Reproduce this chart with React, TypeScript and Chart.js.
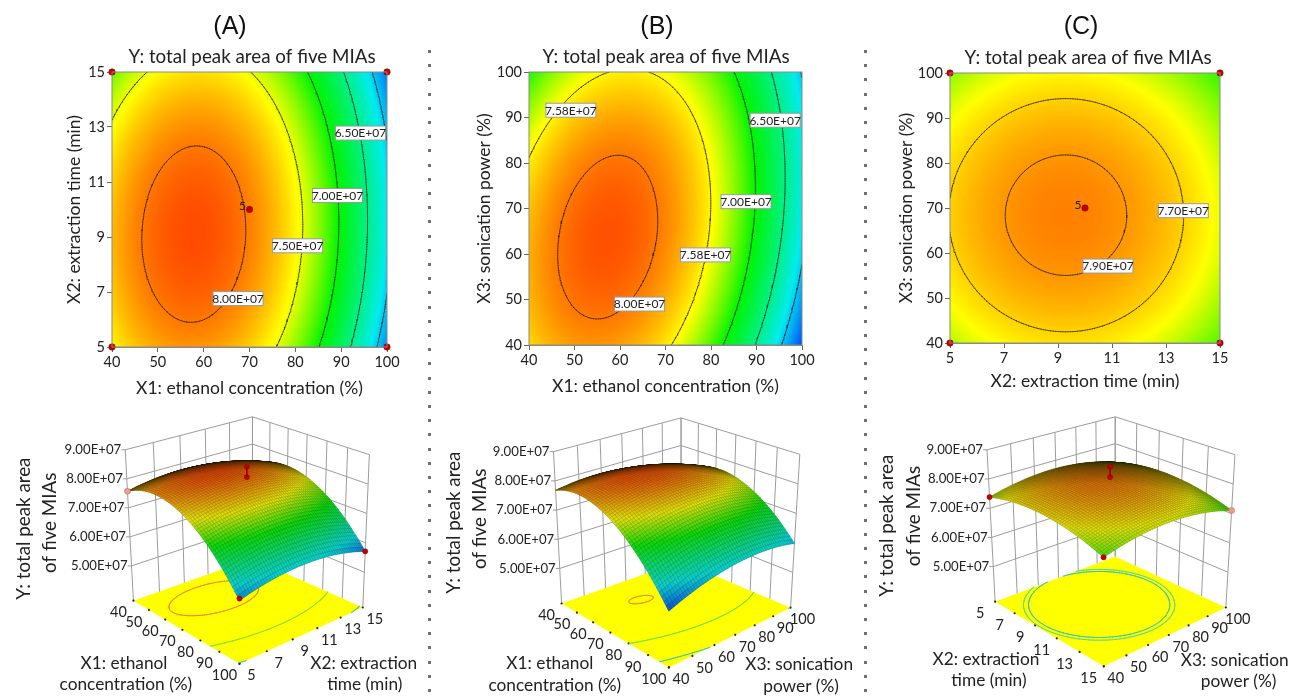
import React, { useEffect, useRef } from "react";
import { Chart, registerables } from "chart.js";

Chart.register(...registerables);

const TEXT_FONT = "Lato";
const SERIES_TITLE = "Y: total peak area of five MIAs";

// ---------- data (Y in units of 1E7) ----------
const ethanol = [40, 50, 60, 70, 80, 90, 100];
const time = [5, 7, 9, 11, 13, 15];
const power = [40, 50, 60, 70, 80, 90, 100];

// rows: extraction time 5..15, columns: ethanol 40..100
const surfaceA = [
  [7.57, 7.848, 7.896, 7.714, 7.302, 6.659, 5.788],
  [7.734, 8.02, 8.077, 7.903, 7.5, 6.866, 6.003],
  [7.783, 8.077, 8.143, 7.977, 7.583, 6.958, 6.103],
  [7.715, 8.019, 8.093, 7.936, 7.55, 6.933, 6.087],
  [7.532, 7.844, 7.927, 7.778, 7.401, 6.793, 5.956],
  [7.234, 7.554, 7.645, 7.506, 7.137, 6.538, 5.709],
];
// rows: sonication power 40..100, columns: ethanol 40..100
const surfaceB = [
  [7.676, 7.883, 7.868, 7.627, 7.163, 6.474, 5.563],
  [7.784, 8.02, 8.032, 7.82, 7.385, 6.725, 5.842],
  [7.807, 8.072, 8.113, 7.93, 7.523, 6.891, 6.037],
  [7.747, 8.04, 8.11, 7.955, 7.577, 6.974, 6.148],
  [7.602, 7.924, 8.023, 7.896, 7.547, 6.972, 6.175],
  [7.374, 7.724, 7.851, 7.754, 7.433, 6.887, 6.118],
  [7.062, 7.441, 7.597, 7.528, 7.236, 6.718, 5.978],
];
// rows: sonication power 40..100, columns: extraction time 5..15
const surfaceC = [
  [7.378, 7.569, 7.644, 7.603, 7.448, 7.176],
  [7.568, 7.759, 7.834, 7.793, 7.638, 7.366],
  [7.677, 7.868, 7.943, 7.902, 7.747, 7.475],
  [7.705, 7.896, 7.971, 7.93, 7.775, 7.503],
  [7.651, 7.842, 7.917, 7.876, 7.721, 7.449],
  [7.516, 7.707, 7.782, 7.741, 7.586, 7.314],
  [7.3, 7.491, 7.566, 7.525, 7.37, 7.098],
];

const levelsA = [8.0, 7.5, 7.0, 6.5, 6.0];
const levelsB = [8.0, 7.58, 7.0, 6.5, 6.0];
const levelsC = [7.9, 7.7];

const contourLabelsA = [
  { x: 94.2, y: 12.78, text: "6.50E+07" },
  { x: 89.2, y: 10.51, text: "7.00E+07" },
  { x: 80.5, y: 8.68, text: "7.50E+07" },
  { x: 67.5, y: 6.76, text: "8.00E+07" },
];
const contourLabelsB = [
  { x: 49.2, y: 91.6, text: "7.58E+07" },
  { x: 94.1, y: 89.4, text: "6.50E+07" },
  { x: 87.7, y: 71.5, text: "7.00E+07" },
  { x: 78.8, y: 59.8, text: "7.58E+07" },
  { x: 64.3, y: 49, text: "8.00E+07" },
];
const contourLabelsC = [
  { x: 13.64, y: 69.4, text: "7.70E+07" },
  { x: 10.85, y: 57.1, text: "7.90E+07" },
];

const designA = [{ x: 40, y: 5 }, { x: 100, y: 5 }, { x: 40, y: 15 }, { x: 100, y: 15 }, { x: 70, y: 10 }];
const designB = [{ x: 70, y: 70, hidden: true }];
const designC = [{ x: 5, y: 40 }, { x: 15, y: 40 }, { x: 5, y: 100 }, { x: 15, y: 100 }, { x: 10, y: 70 }];

const zTicks = [5, 6, 7, 8, 9];
const zLabels = ["5.00E+07", "6.00E+07", "7.00E+07", "8.00E+07", "9.00E+07"];
const Z_MIN = 3.8;
const Z_MAX = 9;

const floorLevelsA = [
  { level: 8.0, color: "#f08a20" },
  { level: 7.0, color: "#7fe040" },
  { level: 5.85, color: "#30c8c0" },
];
const floorLevelsB = [
  { level: 8.12, color: "#f08a20" },
  { level: 7.16, color: "#70e050" },
  { level: 6.0, color: "#30c8c0" },
];
const floorLevelsC = [
  { level: 7.7, color: "#35c8b0" },
  { level: 7.66, color: "#60d890" },
];

const redPoints3dA = [{ a: 100, b: 5, z: 5.85 }, { a: 100, b: 15, z: 5.71 }, { a: 70, b: 10, z: 8.5 }, { a: 70, b: 10, z: 8.15 }];
const palePoints3dA = [{ a: 40, b: 5, z: 7.57 }];
const redPoints3dB: { a: number; b: number; z: number }[] = [];
const palePoints3dB: { a: number; b: number; z: number }[] = [];
const redPoints3dC = [{ a: 5, b: 40, z: 7.38 }, { a: 15, b: 40, z: 7.18 }, { a: 10, b: 70, z: 8.5 }, { a: 10, b: 70, z: 8.15 }];
const palePoints3dC = [{ a: 15, b: 100, z: 7.1 }];

// ---------- colour scale ----------
const colorStops: [number, number, number, number][] = [
  [5.3, 0, 0, 255],
  [6.12, 0, 236, 238],
  [7.0, 0, 245, 0],
  [7.55, 255, 255, 0],
  [8.4, 255, 0, 0],
];
function colorOf(v: number): [number, number, number] {
  if (v <= colorStops[0][0]) return [colorStops[0][1], colorStops[0][2], colorStops[0][3]];
  for (let i = 1; i < colorStops.length; i++) {
    const s = colorStops[i];
    if (v <= s[0]) {
      const p = colorStops[i - 1];
      const t = (v - p[0]) / (s[0] - p[0]);
      return [p[1] + (s[1] - p[1]) * t, p[2] + (s[2] - p[2]) * t, p[3] + (s[3] - p[3]) * t];
    }
  }
  const l = colorStops[colorStops.length - 1];
  return [l[1], l[2], l[3]];
}

// ---------- smooth rendering of a coarse table ----------
function interp1(arr: number[], f: number) {
  const n = arr.length;
  const i = Math.max(0, Math.min(Math.floor(f), n - 2));
  const t = f - i;
  const p1 = arr[i];
  const p2 = arr[i + 1];
  const p0 = i > 0 ? arr[i - 1] : 3 * arr[0] - 3 * arr[1] + arr[2];
  const p3 = i + 2 < n ? arr[i + 2] : 3 * arr[n - 1] - 3 * arr[n - 2] + arr[n - 3];
  return 0.5 * (2 * p1 + (-p0 + p2) * t + (2 * p0 - 5 * p1 + 4 * p2 - p3) * t * t + (-p0 + 3 * p1 - 3 * p2 + p3) * t * t * t);
}
function sampleTable(z: number[][], fx: number, fy: number) {
  return interp1(z.map((r) => interp1(r, fx)), fy);
}

function contourSegments(xs: number[], ys: number[], z: number[][], level: number, M = 110) {
  const nx = xs.length - 1;
  const ny = ys.length - 1;
  const grid: number[][] = [];
  for (let j = 0; j <= M; j++) {
    const row: number[] = [];
    for (let i = 0; i <= M; i++) row.push(sampleTable(z, (i / M) * nx, (j / M) * ny));
    grid.push(row);
  }
  const X = (i: number) => xs[0] + (i / M) * (xs[nx] - xs[0]);
  const Y = (j: number) => ys[0] + (j / M) * (ys[ny] - ys[0]);
  const out: { x: number; y: number }[] = [];
  for (let j = 0; j < M; j++) {
    for (let i = 0; i < M; i++) {
      const a = grid[j][i], b = grid[j][i + 1], c = grid[j + 1][i + 1], d = grid[j + 1][i];
      const pts: { x: number; y: number }[] = [];
      if ((a - level) * (b - level) < 0) pts.push({ x: X(i + (level - a) / (b - a)), y: Y(j) });
      if ((b - level) * (c - level) < 0) pts.push({ x: X(i + 1), y: Y(j + (level - b) / (c - b)) });
      if ((d - level) * (c - level) < 0) pts.push({ x: X(i + (level - d) / (c - d)), y: Y(j + 1) });
      if ((a - level) * (d - level) < 0) pts.push({ x: X(i), y: Y(j + (level - a) / (d - a)) });
      if (pts.length >= 2) {
        out.push(pts[0], pts[1], { x: NaN, y: NaN });
        if (pts.length === 4) out.push(pts[2], pts[3], { x: NaN, y: NaN });
      }
    }
  }
  return out;
}

// ---------- contour panels ----------
const mapPanels = [
  {
    name: "(A)", xs: ethanol, ys: time, z: surfaceA, levels: levelsA, labels: contourLabelsA, design: designA,
    xTitle: "X1: ethanol concentration (%)", yTitle: "X2: extraction time (min)", xStep: 10, yStep: 2,
    canvasLeft: 64, canvasRight: 430, plotLeft: 112, plotRight: 387, plotTop: 72, plotBottom: 347, xTitleCy: 388, headCx: 230, subCx: 252, subCy: 57,
  },
  {
    name: "(B)", xs: ethanol, ys: power, z: surfaceB, levels: levelsB, labels: contourLabelsB, design: designB,
    xTitle: "X1: ethanol concentration (%)", yTitle: "X3: sonication power (%)", xStep: 10, yStep: 10,
    canvasLeft: 474, canvasRight: 860, plotLeft: 529, plotRight: 802, plotTop: 72, plotBottom: 345, xTitleCy: 386, headCx: 657, subCx: 666, subCy: 57,
  },
  {
    name: "(C)", xs: time, ys: power, z: surfaceC, levels: levelsC, labels: contourLabelsC, design: designC,
    xTitle: "X2: extraction time (min)", yTitle: "X3: sonication power (%)", xStep: 2, yStep: 10,
    canvasLeft: 896, canvasRight: 1285, plotLeft: 950, plotRight: 1220, plotTop: 73, plotBottom: 343, xTitleCy: 381, headCx: 1081, subCx: 1088, subCy: 58,
  },
];

const HEAD_FONT = 25;
const SUB_FONT = 18.8;
const AXIS_TITLE_FONT = 17.5;
const TICK_FONT = 14.5;
const LABEL_FONT = 12;

function makeMap(canvas: HTMLCanvasElement, p: (typeof mapPanels)[number]) {
  const heatPlugin = {
    id: "heat",
    beforeDatasetsDraw(chart: any) {
      const { x, y } = chart.scales;
      const l = x.getPixelForValue(p.xs[0]);
      const r = x.getPixelForValue(p.xs[p.xs.length - 1]);
      const t = y.getPixelForValue(p.ys[p.ys.length - 1]);
      const b = y.getPixelForValue(p.ys[0]);
      const W = Math.round(r - l);
      const H = Math.round(b - t);
      const off = document.createElement("canvas");
      off.width = W;
      off.height = H;
      const octx = off.getContext("2d")!;
      const img = octx.createImageData(W, H);
      const nx = p.xs.length - 1;
      const ny = p.ys.length - 1;
      for (let py = 0; py < H; py++) {
        const fy = (1 - (py + 0.5) / H) * ny;
        for (let px = 0; px < W; px++) {
          const [cr, cg, cb] = colorOf(sampleTable(p.z, ((px + 0.5) / W) * nx, fy));
          const k = (py * W + px) * 4;
          img.data[k] = cr;
          img.data[k + 1] = cg;
          img.data[k + 2] = cb;
          img.data[k + 3] = 255;
        }
      }
      octx.putImageData(img, 0, 0);
      chart.ctx.drawImage(off, l, t);
    },
    afterDatasetsDraw(chart: any) {
      const { ctx } = chart;
      const { x, y } = chart.scales;
      ctx.save();
      ctx.strokeStyle = "#8a8a8a";
      ctx.lineWidth = 1;
      const a = chart.chartArea;
      ctx.strokeRect(a.left, a.top, a.right - a.left, a.bottom - a.top);
      ctx.font = `${LABEL_FONT}px ${TEXT_FONT}`;
      ctx.textAlign = "center";
      ctx.textBaseline = "middle";
      for (const lab of p.labels) {
        const cx = x.getPixelForValue(lab.x);
        const cy = y.getPixelForValue(lab.y);
        const w = 50;
        const h = 14;
        ctx.fillStyle = "#ffffff";
        ctx.fillRect(cx - w / 2, cy - h / 2, w, h);
        ctx.strokeStyle = "#9a9a9a";
        ctx.strokeRect(cx - w / 2, cy - h / 2, w, h);
        ctx.fillStyle = "#222222";
        ctx.fillText(lab.text, cx, cy + 0.5);
      }
      const centre = p.design[p.design.length - 1] as any;
      if (!centre.hidden) {
        ctx.fillStyle = "#222222";
        ctx.font = `${LABEL_FONT}px ${TEXT_FONT}`;
        ctx.fillText("5", x.getPixelForValue(centre.x) - 7, y.getPixelForValue(centre.y) - 3);
      }
      ctx.restore();
    },
  };
  const placeTitles = {
    id: "placeTitles",
    afterLayout(chart: any) {
      for (const box of chart.boxes) {
        const txt = box.options && box.options.text;
        if (txt === p.name) {
          box.left = p.headCx - p.canvasLeft - 100;
          box.right = p.headCx - p.canvasLeft + 100;
        } else if (txt === SERIES_TITLE) {
          box.left = p.subCx - p.canvasLeft - 200;
          box.right = p.subCx - p.canvasLeft + 200;
        }
      }
    },
  };
  const headH = HEAD_FONT * 1.2;
  const subH = SUB_FONT * 1.2;
  const headTop = 27 - headH / 2;
  const axisTitleH = AXIS_TITLE_FONT * 1.2;
  const datasets: any[] = [
    {
      label: "Design points",
      data: p.design.filter((d: any) => !d.hidden),
      showLine: false,
      pointRadius: 3.2,
      pointBackgroundColor: "#c40000",
      pointBorderColor: "#8a0000",
      pointBorderWidth: 0.6,
      clip: false,
      order: 0,
    },
    ...p.levels.map((lv) => ({
      label: `Y = ${lv}E+07`,
      data: contourSegments(p.xs, p.ys, p.z, lv),
      showLine: true,
      spanGaps: false,
      pointRadius: 0,
      borderColor: "rgba(25,25,25,0.8)",
      borderWidth: 0.8,
      borderCapStyle: "round",
      order: 1,
    })),
  ];
  return new Chart(canvas, {
    type: "scatter",
    data: { datasets },
    plugins: [heatPlugin, placeTitles],
    options: {
      responsive: false,
      animation: false,
      devicePixelRatio: 1,
      layout: { padding: { left: 0, top: 0, right: p.canvasRight - p.plotRight, bottom: 0 } },
      plugins: {
        legend: { display: false },
        tooltip: { enabled: false },
        title: {
          display: true,
          text: p.name,
          color: "#111111",
          font: { family: "Liberation Sans", size: HEAD_FONT, weight: "normal", lineHeight: 1.2 },
          padding: { top: headTop, bottom: p.subCy - subH / 2 - headTop - headH },
        },
        subtitle: {
          display: true,
          text: SERIES_TITLE,
          color: "#222222",
          font: { family: TEXT_FONT, size: SUB_FONT, weight: "normal", lineHeight: 1.2 },
          padding: { top: 0, bottom: p.plotTop - p.subCy - subH / 2 },
        },
      },
      scales: {
        x: {
          type: "linear",
          min: p.xs[0],
          max: p.xs[p.xs.length - 1],
          afterFit: (s: any) => { s.height = p.xTitleCy + 12 - p.plotBottom; },
          ticks: { stepSize: p.xStep, autoSkip: false, maxRotation: 0, padding: 2, color: "#222222", font: { family: TEXT_FONT, size: TICK_FONT } },
          grid: { drawOnChartArea: false, drawTicks: true, tickLength: 5, color: "#666666" },
          border: { display: true, color: "#8a8a8a" },
          title: { display: true, text: p.xTitle, color: "#222222", font: { family: TEXT_FONT, size: AXIS_TITLE_FONT, lineHeight: 1.2 }, padding: { top: 0, bottom: 12 - axisTitleH / 2 } },
        },
        y: {
          type: "linear",
          min: p.ys[0],
          max: p.ys[p.ys.length - 1],
          afterFit: (s: any) => { s.width = p.plotLeft - p.canvasLeft; },
          ticks: { stepSize: p.yStep, autoSkip: false, padding: 2, color: "#222222", font: { family: TEXT_FONT, size: TICK_FONT } },
          grid: { drawOnChartArea: false, drawTicks: true, tickLength: 5, color: "#666666" },
          border: { display: true, color: "#8a8a8a" },
          title: { display: true, text: p.yTitle, color: "#222222", font: { family: TEXT_FONT, size: AXIS_TITLE_FONT, lineHeight: 1.2 }, padding: { top: 0, bottom: 0 } },
        },
      },
    } as any,
  });
}

// ---------- 3-D view calibration ----------
type Pt = [number, number];
function homography(p0: Pt, p1: Pt, p2: Pt, p3: Pt) {
  const sx = p0[0] - p1[0] + p2[0] - p3[0];
  const sy = p0[1] - p1[1] + p2[1] - p3[1];
  const dx1 = p1[0] - p2[0], dx2 = p3[0] - p2[0], dy1 = p1[1] - p2[1], dy2 = p3[1] - p2[1];
  const den = dx1 * dy2 - dx2 * dy1;
  const g = (sx * dy2 - dx2 * sy) / den;
  const h = (dx1 * sy - sx * dy1) / den;
  const a = p1[0] - p0[0] + g * p1[0], b = p3[0] - p0[0] + h * p3[0], c = p0[0];
  const d = p1[1] - p0[1] + g * p1[1], e = p3[1] - p0[1] + h * p3[1], f = p0[1];
  return (u: number, v: number): Pt => {
    const w = g * u + h * v + 1;
    return [(a * u + b * v + c) / w, (d * u + e * v + f) / w];
  };
}

const surfacePanels = [
  {
    as: ethanol, bs: time, z: surfaceA, floorLevels: floorLevelsA, red: redPoints3dA, pale: palePoints3dA,
    left: 0, top: 400, width: 428, height: 298,
    floor: { L: [131.7, 602.3], F: [240, 667.3], R: [366, 609.3], B: [253.3, 558.7] } as Record<string, Pt>,
    roof: { L: [123.3, 446.7], F: [240, 497], R: [372.7, 451.7], B: [253.3, 412.7] } as Record<string, Pt>,
    titles: [
      { text: "X1: ethanol", x: 122, y: 667 }, { text: "concentration (%)", x: 124, y: 689 },
      { text: "X2: extraction", x: 367, y: 667 }, { text: "time (min)", x: 368, y: 689 },
    ],
    zTitles: [{ text: "Y: total peak area", x: 20, y: 528 }, { text: "of five MIAs", x: 46, y: 522 }],
  },
  {
    as: ethanol, bs: power, z: surfaceB, floorLevels: floorLevelsB, red: redPoints3dB, pale: palePoints3dB,
    left: 432, top: 400, width: 430, height: 298,
    floor: { L: [560, 605], F: [669.3, 670.7], R: [793.3, 609.3], B: [681.7, 561.7] } as Record<string, Pt>,
    roof: { L: [551.7, 449], F: [669, 500], R: [802.7, 451.7], B: [681.7, 414.3] } as Record<string, Pt>,
    titles: [
      { text: "X1: ethanol", x: 548, y: 667 }, { text: "concentration (%)", x: 553, y: 689 },
      { text: "X3: sonication", x: 802, y: 668 }, { text: "power (%)", x: 804, y: 690 },
    ],
    zTitles: [{ text: "Y: total peak area", x: 450, y: 522 }, { text: "of five MIAs", x: 477, y: 518 }],
  },
  {
    as: time, bs: power, z: surfaceC, floorLevels: floorLevelsC, red: redPoints3dC, pale: palePoints3dC,
    left: 867, top: 400, width: 425, height: 298,
    floor: { L: [993.3, 603.3], F: [1104.3, 670], R: [1229, 609.3], B: [1116, 556.7] } as Record<string, Pt>,
    roof: { L: [985, 446.7], F: [1104, 497], R: [1238.3, 451.7], B: [1116, 412.7] } as Record<string, Pt>,
    titles: [
      { text: "X2: extraction", x: 984, y: 663 }, { text: "time (min)", x: 987, y: 685 },
      { text: "X3: sonication", x: 1238, y: 664 }, { text: "power (%)", x: 1242, y: 686 },
    ],
    zTitles: [{ text: "Y: total peak area", x: 883, y: 525 }, { text: "of five MIAs", x: 910, y: 515 }],
  },
];

const MESH = 54;

function makeSurface(canvas: HTMLCanvasElement, p: (typeof surfacePanels)[number]) {
  const H0 = homography(p.floor.L, p.floor.F, p.floor.R, p.floor.B);
  const H1 = homography(p.roof.L, p.roof.F, p.roof.R, p.roof.B);
  const project = (u: number, v: number, z: number) => {
    const f = H0(u, v);
    const r = H1(u, v);
    const t = (z - Z_MIN) / (Z_MAX - Z_MIN);
    return { x: f[0] + (r[0] - f[0]) * t - p.left, y: f[1] + (r[1] - f[1]) * t - p.top };
  };
  const an = (a: number) => (a - p.as[0]) / (p.as[p.as.length - 1] - p.as[0]);
  const bn = (b: number) => (b - p.bs[0]) / (p.bs[p.bs.length - 1] - p.bs[0]);
  const gap = { x: NaN, y: NaN };

  const walls: { x: number; y: number }[] = [];
  for (const b of p.bs) walls.push(project(0, bn(b), Z_MIN), project(0, bn(b), Z_MAX), gap);
  for (const a of p.as) walls.push(project(an(a), 1, Z_MIN), project(an(a), 1, Z_MAX), gap);
  for (const z of zTicks) {
    const s = project(0, 0, z);
    walls.push({ x: s.x - 4, y: s.y }, s, project(0, 1, z), project(1, 1, z), gap);
  }

  const floorTicks = [
    ...p.as.map((a) => project(an(a), 0, Z_MIN)),
    ...p.bs.map((b) => project(1, bn(b), Z_MIN)),
  ];

  const floorSets = p.floorLevels.map((fl) => ({
    label: `floor ${fl.level}`,
    data: contourSegments(p.as, p.bs, p.z, fl.level, 90).map((q) =>
      Number.isNaN(q.x) ? gap : project(an(q.x), bn(q.y), Z_MIN)
    ),
    showLine: true,
    spanGaps: false,
    pointRadius: 0,
    borderColor: fl.color,
    borderWidth: 1,
    borderCapStyle: "round",
    order: 1,
  }));

  const drawFloor = (chart: any) => {
    const { ctx } = chart;
    const { x, y } = chart.scales;
    const corners = [project(0, 0, Z_MIN), project(1, 0, Z_MIN), project(1, 1, Z_MIN), project(0, 1, Z_MIN)];
    ctx.save();
    ctx.fillStyle = "#ffff00";
    ctx.beginPath();
    corners.forEach((c, i) => {
      const px = x.getPixelForValue(c.x);
      const py = y.getPixelForValue(c.y);
      if (i) ctx.lineTo(px, py);
      else ctx.moveTo(px, py);
    });
    ctx.closePath();
    ctx.fill();
    ctx.restore();
  };

  const drawMesh = (chart: any) => {
    const { ctx } = chart;
    const { x, y } = chart.scales;
    const nx = p.as.length - 1;
    const ny = p.bs.length - 1;
    const val: number[][] = [];
    const pos: { x: number; y: number }[][] = [];
    for (let i = 0; i <= MESH; i++) {
      val.push([]);
      pos.push([]);
      for (let j = 0; j <= MESH; j++) {
        const v = sampleTable(p.z, (i / MESH) * nx, (j / MESH) * ny);
        val[i].push(v);
        const q = project(i / MESH, j / MESH, v);
        pos[i].push({ x: x.getPixelForValue(q.x), y: y.getPixelForValue(q.y) });
      }
    }
    const area = (a: any, b: any, c: any, d: any) =>
      Math.abs((c.x - a.x) * (d.y - b.y) - (d.x - b.x) * (c.y - a.y)) / 2;
    ctx.save();
    ctx.lineWidth = 0.6;
    for (let i = 0; i < MESH; i++) {
      for (let j = MESH - 1; j >= 0; j--) {
        const a = pos[i][j], b = pos[i + 1][j], c = pos[i + 1][j + 1], d = pos[i][j + 1];
        const f0 = project(i / MESH, j / MESH, Z_MIN);
        const f1 = project((i + 1) / MESH, j / MESH, Z_MIN);
        const f2 = project((i + 1) / MESH, (j + 1) / MESH, Z_MIN);
        const f3 = project(i / MESH, (j + 1) / MESH, Z_MIN);
        const ratio = area(a, b, c, d) / Math.max(area(f0, f1, f2, f3), 1e-6);
        const shade = Math.min(0.95, 0.02 + 1.05 * Math.pow(ratio, 0.85));
        const avg = (val[i][j] + val[i + 1][j] + val[i + 1][j + 1] + val[i][j + 1]) / 4;
        const col = colorOf(avg);
        const mix = (c0: number, g: number) => (c0 * 0.88 + g * 0.12) * shade;
        const fill = `rgb(${mix(col[0], 90)},${mix(col[1], 90)},${mix(col[2], 70)})`;
        ctx.beginPath();
        ctx.moveTo(a.x, a.y);
        ctx.lineTo(b.x, b.y);
        ctx.lineTo(c.x, c.y);
        ctx.lineTo(d.x, d.y);
        ctx.closePath();
        ctx.fillStyle = fill;
        ctx.fill();
        ctx.strokeStyle = fill;
        ctx.stroke();
        ctx.strokeStyle = "rgba(0,0,0,0.24)";
        ctx.stroke();
      }
    }
    ctx.restore();
  };

  const surfacePlugin = {
    id: "surface3d",
    beforeDatasetsDraw: drawFloor,
    beforeDatasetDraw(chart: any, args: any) {
      if (chart.data.datasets[args.index].label === "Design points") drawMesh(chart);
    },
    afterDraw(chart: any) {
      const { ctx } = chart;
      const { x, y } = chart.scales;
      ctx.save();
      ctx.textBaseline = "middle";
      ctx.fillStyle = "#222222";
      ctx.textAlign = "right";
      ctx.font = `13.2px ${TEXT_FONT}`;
      zTicks.forEach((z, i) => {
        const s = project(0, 0, z);
        ctx.fillText(zLabels[i], x.getPixelForValue(s.x) - 4, y.getPixelForValue(s.y));
      });
      ctx.textAlign = "center";
      ctx.font = `14.5px ${TEXT_FONT}`;
      p.as.forEach((a) => {
        const s = project(an(a), 0, Z_MIN);
        ctx.fillText(String(a), x.getPixelForValue(s.x) - 15, y.getPixelForValue(s.y) + 12);
      });
      p.bs.forEach((b) => {
        const s = project(1, bn(b), Z_MIN);
        ctx.fillText(String(b), x.getPixelForValue(s.x) + 12, y.getPixelForValue(s.y) + 12);
      });
      ctx.font = `17.3px ${TEXT_FONT}`;
      p.titles.forEach((t) => {
        ctx.fillText(t.text, x.getPixelForValue(t.x - p.left), y.getPixelForValue(t.y - p.top));
      });
      ctx.font = `18.8px ${TEXT_FONT}`;
      p.zTitles.forEach((t) => {
        ctx.save();
        ctx.translate(x.getPixelForValue(t.x - p.left), y.getPixelForValue(t.y - p.top));
        ctx.rotate(-Math.PI / 2);
        ctx.fillText(t.text, 0, 0);
        ctx.restore();
      });
      ctx.restore();
    },
  };

  const toPts = (list: { a: number; b: number; z: number }[]) => list.map((d) => project(an(d.a), bn(d.b), d.z));
  const redPts = toPts(p.red);
  const centre = p.red.filter((d) => p.red.filter((o) => o.a === d.a && o.b === d.b).length > 1);

  return new Chart(canvas, {
    type: "scatter",
    data: {
      datasets: [
        { label: "Center stem", data: toPts(centre), showLine: true, pointRadius: 0, borderColor: "#a00000", borderWidth: 1, order: 0 },
        { label: "Low-residual points", data: toPts(p.pale), showLine: false, pointRadius: 3, pointBackgroundColor: "#f09a90", pointBorderColor: "#b06a60", pointBorderWidth: 0.5, clip: false, order: 0 },
        { label: "Design points", data: redPts, showLine: false, pointRadius: 2.6, pointBackgroundColor: "#c40000", pointBorderColor: "#8a0000", pointBorderWidth: 0.5, clip: false, order: 0 },
        ...floorSets,
        { label: "Floor ticks", data: floorTicks, showLine: false, pointRadius: 1.1, pointBackgroundColor: "#222222", pointBorderWidth: 0, order: 1 },
        { label: "Walls", data: walls, showLine: true, spanGaps: false, pointRadius: 0, borderColor: "#9c9c9c", borderWidth: 1, order: 2 },
      ] as any,
    },
    plugins: [surfacePlugin],
    options: {
      responsive: false,
      animation: false,
      devicePixelRatio: 1,
      layout: { padding: 0 },
      plugins: { legend: { display: false }, tooltip: { enabled: false } },
      scales: {
        x: { type: "linear", display: false, min: 0, max: p.width },
        y: { type: "linear", display: false, min: 0, max: p.height, reverse: true },
      },
    } as any,
  });
}

const separators = [429, 865];

export default function App() {
  const mapRefs = useRef<(HTMLCanvasElement | null)[]>([]);
  const surfRefs = useRef<(HTMLCanvasElement | null)[]>([]);
  useEffect(() => {
    document.body.style.margin = "0";
    const charts = [
      ...mapPanels.map((p, i) => makeMap(mapRefs.current[i]!, p)),
      ...surfacePanels.map((p, i) => makeSurface(surfRefs.current[i]!, p)),
    ];
    return () => charts.forEach((c) => c.destroy());
  }, []);
  return (
    <div style={{ position: "absolute", left: 0, top: 0, width: 1292, height: 698, overflow: "hidden", background: "#fff" }}>
      {mapPanels.map((p, i) => (
        <canvas
          key={p.name}
          ref={(el) => { mapRefs.current[i] = el; }}
          width={p.canvasRight - p.canvasLeft}
          height={p.xTitleCy + 12}
          style={{ position: "absolute", left: p.canvasLeft, top: 0 }}
        />
      ))}
      {surfacePanels.map((p, i) => (
        <canvas
          key={i}
          ref={(el) => { surfRefs.current[i] = el; }}
          width={p.width}
          height={p.height}
          style={{ position: "absolute", left: p.left, top: p.top }}
        />
      ))}
      {separators.map((x) => (
        <div
          key={x}
          style={{
            position: "absolute", left: x - 1, top: 50, width: 3, height: 648,
            background: "repeating-linear-gradient(to bottom, #707070 0 3px, transparent 3px 14.2px)",
          }}
        />
      ))}
    </div>
  );
}
